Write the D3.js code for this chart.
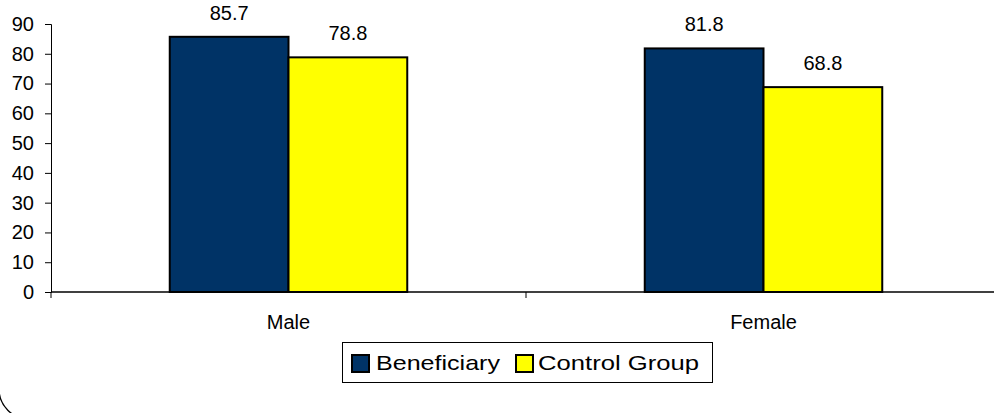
<!DOCTYPE html>
<html>
<head>
<meta charset="utf-8">
<script src="https://cdn.jsdelivr.net/npm/d3@7"></script>
<style>
  body { margin: 0; padding: 0; background: #fff; overflow: hidden; }
  text { font-family: "Liberation Sans", Arial, sans-serif; fill: #000; }
</style>
</head>
<body>
<div id="main"></div>
<script>
const w = 994;
const h = 413;

// data
const categories = ['Male', 'Female'];
const seriesNames = ['Beneficiary', 'Control Group'];
const beneficiary = [85.7, 81.8];
const controlGroup = [78.8, 68.8];
const yTicks = [0, 10, 20, 30, 40, 50, 60, 70, 80, 90];

const colors = ['#003366', '#FFFF00'];
const seriesValues = [beneficiary, controlGroup];

const rows = [];
categories.forEach((c, i) => {
  seriesNames.forEach((s, j) => {
    rows.push({ cat: c, series: s, value: seriesValues[j][i], color: colors[j] });
  });
});

const svg = d3.select('#main')
  .append('svg')
  .attr('width', w)
  .attr('height', h);

// chart area frame (rounded corner shows bottom-left)
svg.append('rect')
  .attr('x', -1)
  .attr('y', -60)
  .attr('width', 2000)
  .attr('height', 479)
  .attr('rx', 30)
  .attr('fill', 'none')
  .attr('stroke', '#000')
  .attr('stroke-width', 1.3);

const xScale = d3.scaleBand()
  .domain(categories)
  .range([51, 1001]);

const x1 = d3.scaleBand()
  .domain(seriesNames)
  .range([xScale.bandwidth() * 0.25, xScale.bandwidth() * 0.75]);

const yScale = d3.scaleLinear()
  .domain([0, 90])
  .range([292, 24]);

// y axis
const yAxis = d3.axisLeft(yScale)
  .tickValues(yTicks)
  .tickSize(6)
  .tickPadding(11);

svg.append('g')
  .attr('id', 'y-axis')
  .attr('transform', 'translate(51,0)')
  .call(yAxis)
  .call(g => g.selectAll('path, line').attr('stroke', '#000').attr('stroke-width', 1))
  .call(g => g.selectAll('text')
    .attr('font-size', '20px')
    .attr('font-family', '"Liberation Sans", Arial, sans-serif')
    .attr('fill', '#000'));

// bars
svg.selectAll('rect.bar')
  .data(rows)
  .enter()
  .append('rect')
  .attr('class', 'bar')
  .attr('x', d => xScale(d.cat) + x1(d.series))
  .attr('y', d => yScale(d.value))
  .attr('width', x1.bandwidth())
  .attr('height', d => yScale(0) - yScale(d.value))
  .attr('fill', d => d.color)
  .attr('stroke', '#000')
  .attr('stroke-width', 2);

// value labels
svg.selectAll('text.val')
  .data(rows)
  .enter()
  .append('text')
  .attr('class', 'val')
  .attr('x', d => xScale(d.cat) + x1(d.series) + x1.bandwidth() / 2)
  .attr('y', d => yScale(d.value) - 17)
  .attr('text-anchor', 'middle')
  .attr('font-size', '20px')
  .text(d => d.value.toFixed(1));

// x axis
const xLine = svg.append('g').attr('id', 'x-axis');
xLine.append('line')
  .attr('x1', 51).attr('x2', 1001)
  .attr('y1', yScale(0)).attr('y2', yScale(0))
  .attr('stroke', '#000').attr('stroke-width', 1.5);

xLine.selectAll('line.tick')
  .data([51, 51 + xScale.step(), 51 + 2 * xScale.step()])
  .enter()
  .append('line')
  .attr('class', 'tick')
  .attr('x1', d => d).attr('x2', d => d)
  .attr('y1', yScale(0)).attr('y2', yScale(0) + 6)
  .attr('stroke', '#000').attr('stroke-width', 1);

xLine.selectAll('text')
  .data(categories)
  .enter()
  .append('text')
  .attr('x', d => xScale(d) + xScale.bandwidth() / 2)
  .attr('y', 329)
  .attr('text-anchor', 'middle')
  .attr('font-size', '20px')
  .text(d => d);

// legend
const legend = svg.append('g').attr('id', 'legend');
legend.append('rect')
  .attr('x', 342.5).attr('y', 342.5)
  .attr('width', 370).attr('height', 40)
  .attr('fill', '#fff')
  .attr('stroke', '#000').attr('stroke-width', 1);

const legendX = [352, 516];
const legendTextX = [376, 538];
const legendTextLen = [124, 161];

seriesNames.forEach((s, i) => {
  legend.append('rect')
    .attr('x', legendX[i]).attr('y', 355)
    .attr('width', 17).attr('height', 17)
    .attr('fill', colors[i])
    .attr('stroke', '#000').attr('stroke-width', 2);
  legend.append('text')
    .attr('x', legendTextX[i])
    .attr('y', 370)
    .attr('font-size', '21px')
    .attr('textLength', legendTextLen[i])
    .attr('lengthAdjust', 'spacingAndGlyphs')
    .text(s);
});
</script>
</body>
</html>
